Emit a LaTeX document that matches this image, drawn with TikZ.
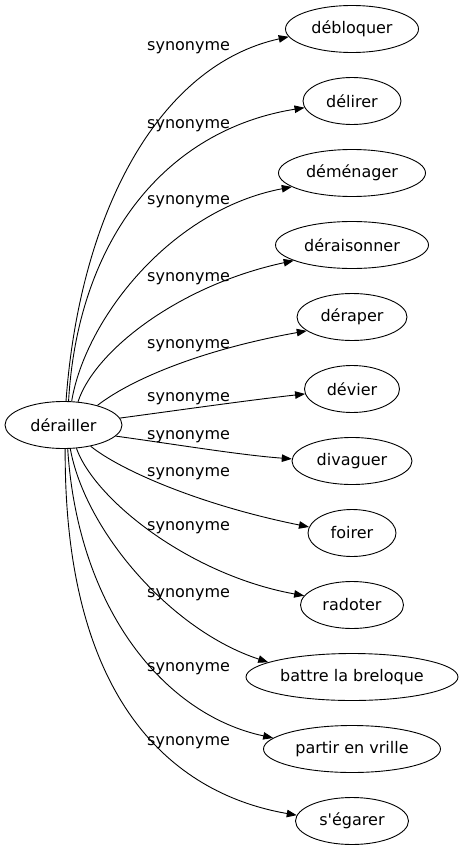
\documentclass[tikz,border=0pt]{standalone}
\usepackage{fontspec}
\setmainfont{DejaVu Sans}[Ligatures=TeXOff]
\usetikzlibrary{arrows.meta,shapes.geometric}
\begin{document}
\begin{tikzpicture}[x=1pt,y=-1pt,
  word/.style={draw,ellipse,inner sep=0pt,minimum height=47pt,line width=0.9pt,font=\fontsize{16}{19}\selectfont},
  rel/.style={font=\fontsize{16}{19}\selectfont,anchor=base west,inner sep=0pt},
  syn/.style={-{Triangle[length=10pt,width=7.5pt]},line width=0.9pt}]
\useasboundingbox (0,0) rectangle (462,851);
\node[word,minimum width=117pt] (d) at (63.5,425) {dérailler};
\node[word,minimum width=133pt] (t1) at (352,29) {débloquer};
\node[word,minimum width=98pt] (t2) at (352,101) {délirer};
\node[word,minimum width=147pt] (t3) at (352,173) {déménager};
\node[word,minimum width=153pt] (t4) at (352,245) {déraisonner};
\node[word,minimum width=110pt] (t5) at (352,317) {déraper};
\node[word,minimum width=95pt] (t6) at (352,389) {dévier};
\node[word,minimum width=120pt] (t7) at (352,461) {divaguer};
\node[word,minimum width=88pt] (t8) at (352,533) {foirer};
\node[word,minimum width=103pt] (t9) at (352,605) {radoter};
\node[word,minimum width=212pt] (t10) at (352,677) {battre la breloque};
\node[word,minimum width=177pt] (t11) at (352,749) {partir en vrille};
\node[word,minimum width=113pt] (t12) at (352,821) {s'égarer};
\node[rel] (l1) at (147,51) {synonyme};
\node[rel] (l2) at (147,128) {synonyme};
\node[rel] (l3) at (147,204) {synonyme};
\node[rel] (l4) at (147,281) {synonyme};
\node[rel] (l5) at (147,348) {synonyme};
\node[rel] (l6) at (147,401) {synonyme};
\node[rel] (l7) at (147,439) {synonyme};
\node[rel] (l8) at (147,476) {synonyme};
\node[rel] (l9) at (147,530) {synonyme};
\node[rel] (l10) at (147,597) {synonyme};
\node[rel] (l11) at (147,671) {synonyme};
\node[rel] (l12) at (147,745) {synonyme};
\draw[syn] (d.84) .. controls (80,210) and (160,65) .. (t1.187);
\draw[syn] (d.78) .. controls (78,240) and (165,130) .. (t2.188);
\draw[syn] (d.71) .. controls (85,320) and (170,210) .. (t3.193);
\draw[syn] (d.58) .. controls (95,350) and (180,285) .. (t4.195);
\draw[syn] (d.30) .. controls (130,380) and (200,350) .. (t5.197);
\draw[syn] (d.7) .. controls (180,410) and (250,400) .. (t6.186);
\draw[syn] (d.348) .. controls (180,445) and (240,455) .. (t7.178);
\draw[syn] (d.322) .. controls (120,470) and (200,505) .. (t8.172);
\draw[syn] (d.299) .. controls (95,500) and (190,575) .. (t9.169);
\draw[syn] (d.286) .. controls (85,530) and (170,630) .. (t10.170);
\draw[syn] (d.280) .. controls (78,610) and (165,715) .. (t11.172);
\draw[syn] (d.274) .. controls (64,710) and (180,795) .. (t12.174);
\end{tikzpicture}
\end{document}
